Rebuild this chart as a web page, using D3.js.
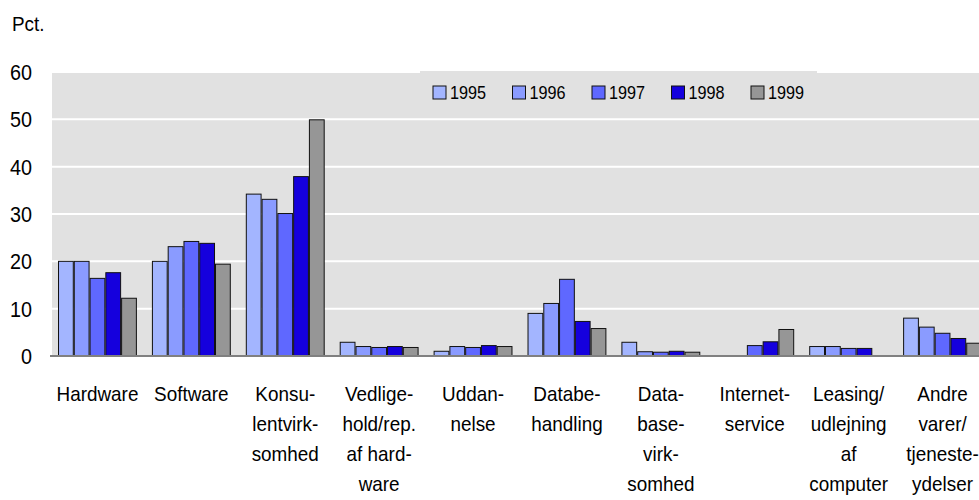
<!DOCTYPE html>
<html>
<head>
<meta charset="utf-8">
<script src="https://cdn.jsdelivr.net/npm/d3@7.9.0/dist/d3.min.js"></script>
<style>
  body { margin: 0; background: #fff; }
  svg { display: block; font-family: "Liberation Sans", Arial, sans-serif; }
</style>
</head>
<body>
<svg width="979" height="500"></svg>
<script>
// categories (label lines)
const categories = [
  ["Hardware"],
  ["Software"],
  ["Konsu-", "lentvirk-", "somhed"],
  ["Vedlige-", "hold/rep.", "af hard-", "ware"],
  ["Uddan-", "nelse"],
  ["Databe-", "handling"],
  ["Data-", "base-", "virk-", "somhed"],
  ["Internet-", "service"],
  ["Leasing/", "udlejning", "af", "computer"],
  ["Andre", "varer/", "tjeneste-", "ydelser"]
];
const years = ["1995", "1996", "1997", "1998", "1999"];

// values per year, one per category
const v1995 = [20, 20, 34.2, 2.9, 1.0, 9.0, 2.9, 0, 2.0, 8.0];
const v1996 = [20, 23.1, 33.1, 2.0, 2.0, 11.1, 0.9, 0, 2.0, 6.1];
const v1997 = [16.4, 24.2, 30.1, 1.8, 1.8, 16.2, 0.8, 2.2, 1.6, 4.8];
const v1998 = [17.6, 23.8, 37.9, 2.0, 2.2, 7.3, 1.0, 3.0, 1.6, 3.7];
const v1999 = [12.2, 19.4, 49.9, 1.8, 2.0, 5.8, 0.8, 5.6, 0.1, 2.7];
const series = [v1995, v1996, v1997, v1998, v1999];

const yTicks = [0, 10, 20, 30, 40, 50, 60];
const colors = ["#a3b5ff", "#8a9bff", "#5f68ff", "#1500dd", "#969696"];

const svg = d3.select("svg");
const catKeys = categories.map((c) => c.join(" "));

// scales
const x0 = d3.scaleBand().domain(catKeys).range([50.5, 50.5 + 939])
  .paddingInner(0.16).paddingOuter(0.08);
const x1 = d3.scaleBand().domain(years).range([0, x0.bandwidth()]);
const y = d3.scaleLinear().domain([0, 60]).range([356, 72]);

// condensed text helper
function ctext(g, x, yy, str, size, anchor) {
  return g.append("text")
    .attr("transform", `translate(${x},${yy}) scale(0.9,1)`)
    .attr("font-size", size)
    .attr("text-anchor", anchor || "start")
    .attr("fill", "#000")
    .text(str);
}

// plot background
svg.append("rect")
  .attr("x", 52).attr("y", y(60))
  .attr("width", 979 - 52).attr("height", y(0) - y(60))
  .attr("fill", "#e1e1e1");

// gridlines
svg.append("g")
  .selectAll("line")
  .data(yTicks.filter((t) => t > 0))
  .join("line")
  .attr("x1", 52).attr("x2", 979)
  .attr("y1", (d) => y(d)).attr("y2", (d) => y(d))
  .attr("stroke", "#fff").attr("stroke-width", 2);

// legend box
svg.append("rect")
  .attr("x", 420).attr("y", 71).attr("width", 397).attr("height", 45)
  .attr("fill", "#e1e1e1");

// bars
const bars = svg.append("g");
categories.forEach((c, ci) => {
  years.forEach((yr, si) => {
    const v = series[si][ci];
    if (v <= 0) return;
    bars.append("rect")
      .attr("x", x0(catKeys[ci]) + x1(yr) + 0.5)
      .attr("y", y(v))
      .attr("width", x1.bandwidth() - 1)
      .attr("height", y(0) - y(v))
      .attr("fill", colors[si])
      .attr("stroke", "#111")
      .attr("stroke-width", 1);
  });
});

// axis baseline
svg.append("line")
  .attr("x1", 50).attr("x2", 979)
  .attr("y1", y(0)).attr("y2", y(0))
  .attr("stroke", "#808080").attr("stroke-width", 2);

// y tick labels
const yAxisG = svg.append("g");
yTicks.forEach((t) => ctext(yAxisG, 32, y(t) + 8, t, 22, "end"));

// unit label
ctext(svg, 12, 31, "Pct.", 21);

// category labels
const catG = svg.append("g");
categories.forEach((lines, ci) => {
  const cx = x0(catKeys[ci]) + x0.bandwidth() / 2;
  lines.forEach((ln, li) => ctext(catG, cx, 401 + li * 30, ln, 21, "middle"));
});

// legend
const leg = svg.append("g");
years.forEach((yr, i) => {
  const lx = 433 + i * 79.5;
  leg.append("rect")
    .attr("x", lx).attr("y", 86).attr("width", 13).attr("height", 13)
    .attr("fill", colors[i]).attr("stroke", "#111").attr("stroke-width", 1);
  ctext(leg, lx + 17, 99, yr, 18);
});
</script>
</body>
</html>
